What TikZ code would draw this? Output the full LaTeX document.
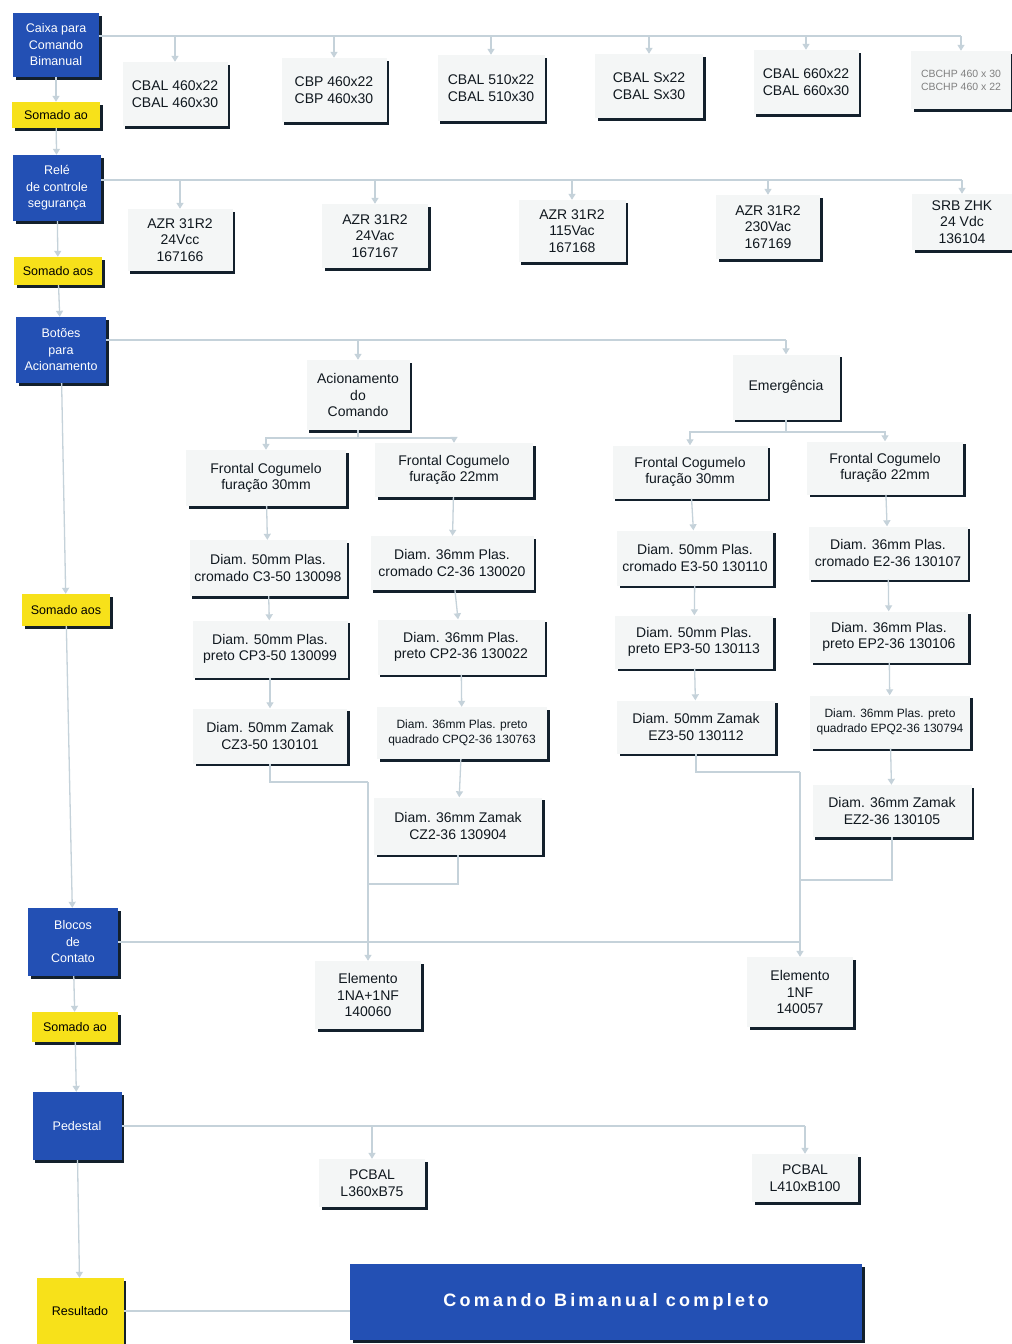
\documentclass[tikz,border=0pt]{standalone}
\usepackage{fontspec}
\setmainfont{Liberation Sans}
\newfontfamily\spacedfont[LetterSpace=18]{Liberation Sans}
\usetikzlibrary{arrows.meta,shadows}
\definecolor{myblue}{HTML}{2350B4}
\definecolor{myyellow}{HTML}{F7E11A}
\definecolor{shadowc}{HTML}{13202C}
\definecolor{linec}{HTML}{C5D2DA}
\definecolor{boxfill}{HTML}{F4F6F6}
\definecolor{textc}{HTML}{10181F}
\begin{document}
\begin{tikzpicture}[x=1pt,y=-1pt,
  shad/.style={drop shadow={shadow xshift=2.5pt,shadow yshift=-2.5pt,fill=shadowc,opacity=1}},
  bluebox/.style={shad,fill=myblue,text=white,align=center,inner sep=2pt,
    minimum width=88pt,minimum height=66pt,font=\fontsize{12.5}{16.5}\selectfont},
  yelbox/.style={shad,fill=myyellow,text=black,align=center,inner sep=2pt,
    minimum width=88pt,minimum height=28pt,font=\fontsize{12.5}{15}\selectfont},
  wbox/.style={shad,fill=boxfill,text=textc,align=center,inner sep=2pt,
    minimum width=105pt,minimum height=62pt,font=\fontsize{14}{16.5}\selectfont},
  small/.style={font=\fontsize{12}{15}\selectfont},
  wire/.style={draw=linec,line width=1.3pt},
  arr/.style={wire,-{Triangle[length=6pt,width=7pt]}},
]
\useasboundingbox[fill=white] (0,0) rectangle (1012,1344);

% ---------- left column ----------
\node[bluebox,minimum width=86pt,minimum height=64pt] (caixa) at (56,45) {Caixa para\\Comando\\Bimanual};
\node[yelbox,minimum height=26pt] (s1) at (56,115) {Somado ao};
\node[bluebox] (rele) at (57,188) {Relé\\de controle\\segurança};
\node[yelbox] (s2) at (58,271) {Somado aos};
\node[bluebox,minimum width=90pt] (botoes) at (61,350) {Botões\\para\\Acionamento};
\node[yelbox,minimum height=32pt] (s3) at (66,610) {Somado aos};
\node[bluebox,minimum width=90pt,minimum height=68pt] (blocos) at (73,942) {Blocos\\de\\Contato};
\node[yelbox,minimum width=86pt,minimum height=30pt] (s4) at (75,1027) {Somado ao};
\node[bluebox,minimum width=89pt,minimum height=68pt] (pedestal) at (77,1126) {Pedestal};
\node[yelbox,minimum width=87pt,minimum height=66pt] (result) at (80,1311) {Resultado};

\draw[arr] (caixa) -- (s1);
\draw[arr] (s1) -- (rele);
\draw[arr] (rele) -- (s2);
\draw[arr] (s2) -- (botoes);
\draw[arr] (botoes) -- (s3);
\draw[arr] (s3) -- (blocos);
\draw[arr] (blocos) -- (s4);
\draw[arr] (s4) -- (pedestal);
\draw[arr] (pedestal) -- (result);

% ---------- caixas ----------
\node[wbox,minimum height=64pt] (t1) at (175,94) {CBAL 460x22\\CBAL 460x30};
\node[wbox,minimum height=64pt] (t2) at (334,90) {CBP 460x22\\CBP 460x30};
\node[wbox,minimum width=107pt,minimum height=66pt] (t3) at (491,88) {CBAL 510x22\\CBAL 510x30};
\node[wbox,minimum width=108pt,minimum height=64pt] (t4) at (649,86) {CBAL Sx22\\CBAL Sx30};
\node[wbox,minimum height=64pt] (t5) at (806,82) {CBAL 660x22\\CBAL 660x30};
\node[wbox,minimum width=100pt,minimum height=58pt,text=gray,font=\fontsize{10.5}{13}\selectfont] (t6) at (961,80) {CBCHP 460 x 30\\CBCHP 460 x 22};

\coordinate (tbus) at ([yshift=9pt]caixa.east);
\draw[wire] (tbus) -- (tbus -| t6.north);
\foreach \n in {t1,t2,t3,t4,t5,t6}
  \draw[arr] (tbus -| \n.north) -- (\n.north);

% ---------- reles ----------
\node[wbox] (r1) at (180,240) {AZR 31R2\\24Vcc\\167166};
\node[wbox,minimum width=106pt,minimum height=64pt] (r2) at (375,236) {AZR 31R2\\24Vac\\167167};
\node[wbox,minimum width=107pt] (r3) at (572,231) {AZR 31R2\\115Vac\\167168};
\node[wbox,minimum width=104pt,minimum height=64pt] (r4) at (768,227) {AZR 31R2\\230Vac\\167169};
\node[wbox,minimum width=100pt,minimum height=56pt] (r5) at (962,222) {SRB ZHK\\24 Vdc\\136104};

\coordinate (rbus) at ([yshift=8pt]rele.east);
\draw[wire] (rbus) -- (rbus -| r5.north);
\foreach \n in {r1,r2,r3,r4,r5}
  \draw[arr] (rbus -| \n.north) -- (\n.north);

% ---------- botoes ----------
\node[wbox,minimum width=103pt,minimum height=70pt] (acion) at (358,395) {Acionamento\\do\\Comando};
\node[wbox,minimum width=107pt,minimum height=65pt] (emerg) at (786,387) {Emergência};
\coordinate (bbus) at ([yshift=10pt]botoes.east);
\draw[wire] (bbus) -- (bbus -| emerg.north);
\draw[arr] (bbus -| acion.north) -- (acion.north);
\draw[arr] (bbus -| emerg.north) -- (emerg.north);

% Acionamento do Comando branch
\node[wbox,minimum width=160pt,minimum height=56pt] (fa30) at (266,478) {Frontal Cogumelo\\furação 30mm};
\node[wbox,minimum width=158pt,minimum height=54pt] (fa22) at (454,470) {Frontal Cogumelo\\furação 22mm};
\node[wbox,minimum width=157pt,minimum height=56pt] (c50) at (268,568) {Diam. 50mm Plas.\\cromado C3-50 130098};
\node[wbox,minimum width=163pt,minimum height=54pt] (c36) at (452,563) {Diam. 36mm Plas.\\cromado C2-36 130020};
\node[wbox,minimum width=155pt,minimum height=57pt] (p50) at (270,649) {Diam. 50mm Plas.\\preto CP3-50 130099};
\node[wbox,minimum width=167pt,minimum height=55pt] (p36) at (461,647) {Diam. 36mm Plas.\\preto CP2-36 130022};
\node[wbox,minimum width=154pt,minimum height=55pt] (z50) at (270,736) {Diam. 50mm Zamak\\CZ3-50 130101};
\node[wbox,small,minimum width=170pt,minimum height=52pt] (q36) at (462,733) {Diam. 36mm Plas. preto\\quadrado CPQ2-36 130763};
\node[wbox,minimum width=168pt,minimum height=57pt] (z36) at (458,826) {Diam. 36mm Zamak\\CZ2-36 130904};

\coordinate (aj) at (358,438);
\draw[wire] (acion.south) -- (aj);
\draw[arr] (aj) -| (fa30.north);
\draw[arr] (aj) -| (fa22.north);
\draw[arr] (fa30) -- (c50);
\draw[arr] (c50) -- (p50);
\draw[arr] (p50) -- (z50);
\draw[arr] (fa22) -- (c36);
\draw[arr] (c36) -- (p36);
\draw[arr] (p36) -- (q36);
\draw[arr] (q36) -- (z36);

% Emergencia branch
\node[wbox,minimum width=155pt,minimum height=53pt] (fe30) at (690,472) {Frontal Cogumelo\\furação 30mm};
\node[wbox,minimum width=156pt,minimum height=53pt] (fe22) at (885,468) {Frontal Cogumelo\\furação 22mm};
\node[wbox,minimum width=156pt,minimum height=55pt] (ec50) at (695,558) {Diam. 50mm Plas.\\cromado E3-50 130110};
\node[wbox,minimum width=159pt,minimum height=53pt] (ec36) at (888,553) {Diam. 36mm Plas.\\cromado E2-36 130107};
\node[wbox,minimum width=158pt,minimum height=53pt] (ep50) at (694,642) {Diam. 50mm Plas.\\preto EP3-50 130113};
\node[wbox,minimum width=158pt,minimum height=51pt] (ep36) at (889,637) {Diam. 36mm Plas.\\preto EP2-36 130106};
\node[wbox,minimum width=158pt,minimum height=53pt] (ez50) at (696,727) {Diam. 50mm Zamak\\EZ3-50 130112};
\node[wbox,small,minimum width=160pt,minimum height=53pt] (eq36) at (890,722) {Diam. 36mm Plas. preto\\quadrado EPQ2-36 130794};
\node[wbox,minimum width=159pt,minimum height=52pt] (ez36) at (892,811) {Diam. 36mm Zamak\\EZ2-36 130105};

\coordinate (ej) at (786,432);
\draw[wire] (emerg.south) -- (ej);
\draw[arr] (ej) -| (fe30.north);
\draw[arr] (ej) -| (fe22.north);
\draw[arr] (fe30) -- (ec50);
\draw[arr] (ec50) -- (ep50);
\draw[arr] (ep50) -- (ez50);
\draw[arr] (fe22) -- (ec36);
\draw[arr] (ec36) -- (ep36);
\draw[arr] (ep36) -- (eq36);
\draw[arr] (eq36) -- (ez36);

% ---------- blocos de contato ----------
\node[wbox,minimum width=106pt,minimum height=68pt] (el1) at (368,995) {Elemento\\1NA+1NF\\140060};
\node[wbox,minimum width=106pt,minimum height=70pt] (el2) at (800,992) {Elemento\\1NF\\140057};

\coordinate (ja) at (368,782);
\coordinate (m1) at (368,884);
\coordinate (jb) at (800,772);
\coordinate (m2) at (800,880);
\draw[wire] (z50.south) |- (ja);
\draw[wire] (z36.south) |- (m1);
\draw[wire] (ez50.south) |- (jb);
\draw[wire] (ez36.south) |- (m2);
\draw[wire] (blocos.east) -- (blocos.east -| el2.north);
\draw[arr] (ja) -- (el1.north);
\draw[arr] (jb) -- (el2.north);

% ---------- pedestal ----------
\node[wbox,minimum width=106pt,minimum height=48pt] (pc1) at (372,1183) {PCBAL\\L360xB75};
\node[wbox,minimum width=106pt,minimum height=48pt] (pc2) at (805,1178) {PCBAL\\L410xB100};
\draw[wire] (pedestal.east) -- (pedestal.east -| pc2.north);
\draw[arr] (pedestal.east -| pc1.north) -- (pc1.north);
\draw[arr] (pedestal.east -| pc2.north) -- (pc2.north);

% ---------- resultado ----------
\node[shad,fill=myblue,text=white,minimum width=512pt,minimum height=76pt,
  font=\spacedfont\bfseries\fontsize{18}{21}\selectfont] (final) at (606,1302) {Comando Bimanual completo};
\draw[wire] (result.east) -- (result.east -| final.west);
\end{tikzpicture}
\end{document}
